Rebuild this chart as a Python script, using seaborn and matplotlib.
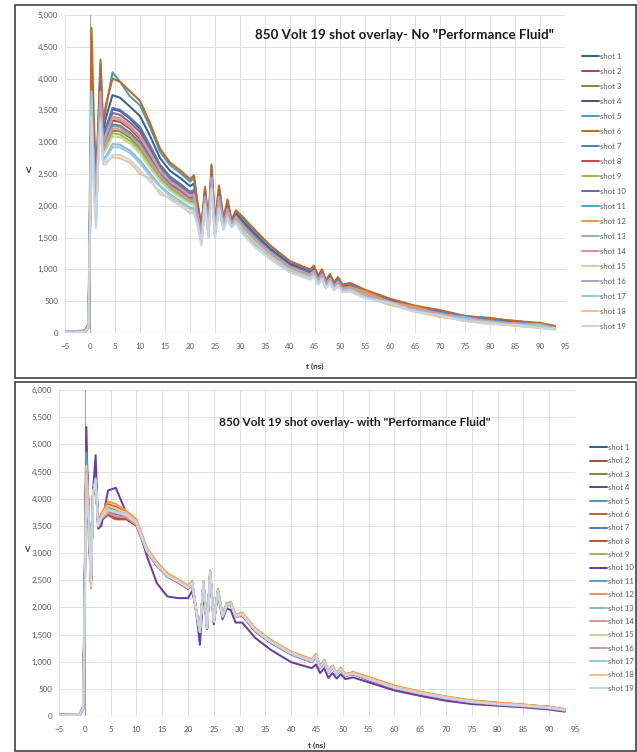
import matplotlib
matplotlib.use("Agg")
import pandas as pd
import seaborn as sns
import matplotlib.pyplot as plt
from matplotlib.patches import Rectangle
from matplotlib.ticker import FuncFormatter

# Sample times (ns) shared by every trace
t_ns = [-5, -1, -0.3, 0.3, 0.8, 1.2, 1.6, 2.1, 2.6, 3.2, 4.5, 6, 8, 10, 12, 14, 16, 18, 20,
        20.8, 21.5, 22.3, 23.0, 23.7, 24.3, 25.0, 25.8, 26.7, 27.5, 28.3, 29.2,
        30.5, 33, 36, 40, 44, 44.8, 45.6, 46.4, 47.2, 48, 48.8, 49.6, 50.5, 52,
        55, 60, 65, 70, 75, 80, 85, 90, 93]

# Panel 1: no "Performance Fluid" (V)
nf_shot01 = [15, 20, 120, 3600, 3060, 2160, 3070, 4080, 3160, 3390, 3740, 3700, 3560, 3410, 3100, 2750, 2550, 2440, 2310, 2350, 1970, 1630, 2230, 1700, 2560, 1700, 2240, 1760, 2030, 1750, 1880, 1770, 1560, 1330, 1090, 970, 1020, 870, 960, 800, 900, 760, 850, 730, 760, 630, 520, 410, 300, 250, 210, 190, 140, 100]
nf_shot02 = [15, 25, 110, 3200, 2700, 1940, 2870, 3750, 2940, 3080, 3340, 3320, 3210, 3050, 2790, 2530, 2360, 2250, 2130, 2150, 1860, 1520, 2140, 1610, 2430, 1610, 2120, 1700, 1940, 1710, 1820, 1680, 1470, 1260, 1060, 910, 960, 820, 915, 755, 850, 720, 800, 690, 710, 590, 490, 380, 270, 230, 180, 170, 120, 80]
nf_shot03 = [20, 5, 80, 3150, 2550, 1860, 2790, 3620, 2860, 2950, 3180, 3170, 3070, 2910, 2670, 2440, 2290, 2180, 2070, 2070, 1810, 1480, 2100, 1580, 2380, 1580, 2070, 1680, 1900, 1700, 1790, 1650, 1440, 1230, 1010, 880, 945, 800, 895, 735, 835, 705, 780, 670, 690, 590, 470, 370, 290, 190, 170, 140, 80, 70]
nf_shot04 = [30, 20, 140, 3400, 2860, 2040, 2960, 3900, 3040, 3220, 3520, 3490, 3370, 3210, 2930, 2630, 2450, 2340, 2210, 2240, 1910, 1570, 2180, 1650, 2490, 1650, 2170, 1730, 1980, 1730, 1850, 1720, 1510, 1290, 1060, 930, 990, 840, 950, 770, 870, 750, 820, 720, 730, 630, 500, 420, 320, 240, 220, 160, 150, 90]
nf_shot05 = [20, 40, 130, 3900, 3220, 2260, 3160, 4230, 3260, 3540, 4100, 3950, 3720, 3580, 3240, 2850, 2640, 2520, 2380, 2440, 2030, 1680, 2280, 1730, 2620, 1730, 2290, 1790, 2080, 1770, 1920, 1810, 1600, 1370, 1120, 990, 1040, 900, 980, 830, 910, 790, 860, 760, 770, 670, 530, 420, 330, 260, 240, 180, 150, 110]
nf_shot06 = [10, 30, 150, 4800, 3300, 2300, 3200, 4300, 3300, 3600, 4000, 3950, 3800, 3650, 3300, 2900, 2680, 2560, 2420, 2480, 2050, 1700, 2300, 1750, 2650, 1750, 2320, 1800, 2100, 1780, 1930, 1830, 1620, 1380, 1130, 1000, 1060, 900, 1000, 830, 930, 790, 880, 760, 790, 680, 540, 430, 360, 270, 230, 190, 160, 110]
nf_shot07 = [25, 10, 110, 3500, 2880, 2050, 2970, 3920, 3050, 3240, 3540, 3510, 3390, 3240, 2950, 2650, 2460, 2350, 2220, 2250, 1920, 1580, 2190, 1660, 2500, 1660, 2180, 1730, 1990, 1730, 1850, 1730, 1520, 1300, 1060, 940, 1000, 850, 940, 780, 880, 740, 830, 710, 740, 630, 520, 400, 320, 260, 200, 160, 130, 90]
nf_shot08 = [5, 20, 90, 3250, 2640, 1910, 2840, 3700, 2910, 3030, 3280, 3260, 3150, 3000, 2750, 2500, 2330, 2220, 2110, 2120, 1840, 1510, 2120, 1600, 2410, 1600, 2100, 1690, 1920, 1710, 1800, 1670, 1460, 1250, 1020, 900, 960, 815, 905, 750, 845, 720, 795, 685, 705, 600, 510, 380, 290, 200, 180, 140, 130, 70]
nf_shot09 = [30, 25, 120, 3050, 2510, 1830, 2770, 3580, 2830, 2920, 3140, 3120, 3020, 2870, 2640, 2420, 2260, 2160, 2050, 2050, 1800, 1470, 2080, 1570, 2360, 1570, 2050, 1670, 1880, 1690, 1780, 1640, 1430, 1220, 1000, 885, 935, 800, 890, 740, 825, 700, 780, 675, 690, 590, 440, 370, 280, 210, 190, 130, 100, 70]
nf_shot10 = [10, 30, 120, 3300, 2810, 2010, 2930, 3850, 3010, 3170, 3460, 3430, 3310, 3160, 2890, 2600, 2420, 2310, 2190, 2210, 1890, 1560, 2170, 1640, 2470, 1640, 2150, 1720, 1970, 1730, 1840, 1710, 1500, 1280, 1050, 925, 1000, 830, 935, 765, 880, 735, 815, 705, 725, 620, 500, 390, 340, 230, 190, 170, 120, 80]
nf_shot11 = [25, 35, 140, 3450, 2620, 1900, 2830, 3680, 2900, 3010, 3260, 3240, 3130, 2970, 2730, 2490, 2320, 2210, 2100, 2110, 1830, 1500, 2110, 1600, 2400, 1600, 2090, 1690, 1910, 1710, 1800, 1660, 1450, 1240, 1020, 905, 950, 810, 910, 745, 840, 715, 790, 690, 700, 640, 480, 370, 320, 220, 200, 140, 110, 70]
nf_shot12 = [20, 10, 100, 3100, 2750, 1980, 2900, 3800, 2980, 3130, 3400, 3380, 3260, 3100, 2840, 2570, 2390, 2280, 2160, 2180, 1880, 1540, 2150, 1630, 2450, 1630, 2140, 1710, 1950, 1720, 1830, 1700, 1490, 1270, 1040, 920, 970, 840, 920, 780, 850, 740, 800, 710, 720, 650, 490, 410, 300, 230, 170, 150, 120, 80]
nf_shot13 = [25, 10, 120, 3700, 2350, 1740, 2680, 3440, 2740, 2780, 2970, 2960, 2870, 2710, 2510, 2320, 2180, 2080, 1970, 1960, 1750, 1430, 2040, 1540, 2310, 1540, 2000, 1650, 1840, 1680, 1750, 1600, 1390, 1190, 980, 860, 915, 780, 870, 720, 810, 690, 760, 660, 670, 570, 450, 380, 270, 200, 180, 120, 90, 60]
nf_shot14 = [10, 15, 100, 3000, 2590, 1880, 2810, 3650, 2880, 2980, 3220, 3200, 3100, 2940, 2700, 2470, 2300, 2200, 2080, 2090, 1820, 1490, 2110, 1590, 2390, 1590, 2080, 1680, 1910, 1700, 1790, 1660, 1450, 1240, 1010, 895, 950, 805, 900, 745, 840, 710, 790, 680, 700, 600, 480, 350, 290, 220, 170, 120, 110, 70]
nf_shot15 = [15, 30, 110, 2950, 2460, 1810, 2740, 3540, 2810, 2880, 3090, 3080, 2980, 2820, 2600, 2390, 2240, 2130, 2030, 2020, 1780, 1460, 2070, 1560, 2350, 1560, 2040, 1660, 1870, 1690, 1770, 1630, 1420, 1210, 990, 875, 930, 790, 885, 730, 825, 700, 775, 670, 680, 610, 460, 360, 250, 210, 160, 150, 100, 60]
nf_shot16 = [35, 15, 130, 3350, 2730, 1960, 2890, 3780, 2960, 3110, 3380, 3350, 3240, 3080, 2820, 2550, 2380, 2270, 2150, 2170, 1870, 1530, 2140, 1620, 2440, 1620, 2130, 1710, 1940, 1720, 1820, 1690, 1480, 1270, 1040, 915, 975, 825, 925, 760, 860, 725, 805, 695, 715, 610, 470, 380, 300, 250, 180, 150, 140, 80]
nf_shot17 = [10, 20, 100, 3800, 2310, 1720, 2660, 3400, 2720, 2750, 2920, 2920, 2830, 2670, 2470, 2300, 2160, 2060, 1950, 1940, 1740, 1410, 2030, 1530, 2290, 1530, 1990, 1640, 1830, 1670, 1740, 1590, 1380, 1180, 970, 855, 905, 775, 865, 715, 805, 680, 755, 650, 665, 560, 480, 350, 260, 230, 150, 120, 120, 60]
nf_shot18 = [20, 15, 90, 3000, 2260, 1680, 2630, 3350, 2680, 2700, 2760, 2750, 2680, 2500, 2430, 2180, 2130, 2030, 1880, 1910, 1720, 1400, 2020, 1510, 2270, 1510, 1970, 1630, 1820, 1670, 1730, 1570, 1360, 1170, 960, 850, 895, 765, 855, 705, 795, 675, 745, 645, 655, 560, 450, 330, 260, 190, 170, 110, 80, 80]
nf_shot19 = [5, 10, 100, 3400, 2200, 1650, 2600, 3300, 2650, 2650, 2800, 2800, 2720, 2560, 2380, 2230, 2100, 2000, 1900, 1880, 1700, 1380, 2000, 1500, 2250, 1500, 1950, 1620, 1800, 1660, 1720, 1560, 1350, 1160, 950, 840, 890, 760, 850, 700, 790, 670, 740, 640, 650, 550, 470, 340, 280, 190, 140, 130, 80, 50]

# Panel 2: with "Performance Fluid" (V)
wf_shot01 = [15, 25, 120, 4700, 3650, 2480, 4080, 4300, 3520, 3640, 3780, 3720, 3680, 3560, 3080, 2800, 2590, 2490, 2370, 2440, 1990, 1560, 2450, 1630, 2640, 1750, 2310, 1840, 2050, 2060, 1840, 1880, 1590, 1380, 1160, 1020, 1100, 910, 990, 810, 890, 790, 850, 760, 770, 690, 530, 410, 340, 250, 230, 180, 160, 100]
wf_shot02 = [25, 35, 160, 4600, 3550, 2420, 4050, 4300, 3450, 3600, 3700, 3620, 3620, 3500, 3020, 2760, 2570, 2470, 2350, 2430, 1970, 1540, 2430, 1610, 2630, 1730, 2290, 1820, 2030, 2060, 1820, 1860, 1570, 1360, 1140, 1000, 1090, 890, 990, 790, 890, 770, 850, 740, 770, 670, 510, 400, 310, 250, 210, 180, 140, 100]
wf_shot03 = [10, 20, 140, 4750, 3600, 2460, 4120, 4380, 3530, 3680, 3850, 3780, 3720, 3580, 3080, 2800, 2600, 2490, 2370, 2460, 1990, 1560, 2450, 1630, 2660, 1750, 2310, 1840, 2050, 2080, 1840, 1880, 1590, 1380, 1160, 1020, 1120, 910, 1010, 810, 910, 790, 870, 760, 790, 700, 530, 430, 350, 270, 230, 200, 150, 110]
wf_shot04 = [30, 15, 130, 4650, 3620, 2440, 4090, 4340, 3490, 3630, 3760, 3730, 3690, 3540, 3040, 2770, 2570, 2470, 2350, 2440, 1970, 1540, 2430, 1610, 2640, 1730, 2290, 1820, 2030, 2060, 1820, 1860, 1560, 1350, 1130, 990, 1100, 890, 990, 790, 890, 770, 850, 740, 770, 660, 500, 400, 310, 240, 200, 170, 130, 90]
wf_shot05 = [20, 30, 150, 4900, 3680, 2500, 4130, 4400, 3540, 3690, 3830, 3770, 3730, 3580, 3070, 2800, 2600, 2500, 2380, 2470, 2000, 1570, 2460, 1640, 2660, 1760, 2320, 1850, 2060, 2090, 1850, 1890, 1600, 1390, 1170, 1030, 1130, 910, 1020, 810, 910, 790, 880, 760, 800, 700, 540, 440, 350, 280, 240, 200, 170, 120]
wf_shot06 = [15, 25, 140, 4800, 3650, 2400, 4150, 4420, 3560, 3720, 3900, 3850, 3760, 3600, 3090, 2820, 2620, 2510, 2390, 2480, 2010, 1580, 2470, 1650, 2670, 1770, 2330, 1860, 2070, 2090, 1860, 1900, 1610, 1400, 1180, 1040, 1130, 920, 1020, 820, 920, 800, 880, 770, 800, 710, 550, 440, 350, 280, 240, 210, 170, 120]
wf_shot07 = [25, 20, 130, 4850, 3640, 2470, 4110, 4360, 3510, 3660, 3810, 3760, 3710, 3560, 3060, 2790, 2590, 2490, 2370, 2450, 1990, 1550, 2440, 1620, 2650, 1740, 2300, 1830, 2040, 2070, 1830, 1870, 1580, 1370, 1150, 1010, 1110, 900, 1000, 800, 900, 780, 860, 750, 780, 680, 520, 420, 330, 260, 220, 190, 150, 110]
wf_shot08 = [20, 35, 160, 4550, 3560, 2430, 4060, 4310, 3460, 3610, 3720, 3640, 3640, 3510, 3030, 2760, 2560, 2460, 2340, 2430, 1960, 1540, 2420, 1600, 2630, 1720, 2280, 1820, 2030, 2050, 1820, 1850, 1560, 1360, 1140, 1000, 1090, 890, 990, 790, 890, 770, 850, 740, 770, 670, 510, 410, 320, 250, 210, 180, 140, 100]
wf_shot09 = [10, 30, 150, 4700, 3620, 2450, 4100, 4360, 3500, 3660, 3820, 3770, 3710, 3570, 3070, 2800, 2600, 2490, 2370, 2460, 1990, 1560, 2450, 1630, 2650, 1750, 2310, 1840, 2050, 2080, 1840, 1880, 1590, 1380, 1160, 1020, 1110, 900, 1010, 810, 900, 790, 860, 750, 780, 690, 530, 430, 340, 270, 230, 190, 160, 110]
wf_shot10 = [25, 20, 180, 5320, 3200, 2500, 4150, 4800, 3450, 3500, 4150, 4200, 3750, 3600, 2950, 2440, 2200, 2170, 2170, 2300, 2000, 1310, 2300, 1600, 2600, 1690, 2250, 1780, 1980, 1950, 1720, 1720, 1440, 1220, 990, 880, 950, 790, 880, 700, 790, 690, 770, 680, 710, 620, 470, 370, 280, 220, 190, 160, 120, 80]
wf_shot11 = [20, 25, 150, 4850, 3660, 2480, 4120, 4380, 3520, 3670, 3820, 3760, 3720, 3570, 3060, 2790, 2590, 2490, 2370, 2450, 1990, 1560, 2450, 1630, 2650, 1750, 2310, 1840, 2050, 2070, 1840, 1880, 1590, 1380, 1160, 1020, 1110, 900, 1000, 800, 900, 780, 870, 750, 790, 690, 530, 420, 340, 270, 230, 200, 160, 110]
wf_shot12 = [15, 30, 140, 4600, 3640, 2350, 4100, 4300, 3550, 3720, 3950, 3900, 3780, 3620, 3100, 2830, 2630, 2520, 2400, 2470, 2010, 1570, 2470, 1650, 2680, 1770, 2340, 1860, 2080, 2100, 1860, 1900, 1620, 1400, 1180, 1040, 1140, 920, 1030, 830, 930, 800, 890, 770, 810, 720, 560, 450, 360, 290, 250, 210, 170, 130]
wf_shot13 = [25, 20, 130, 4400, 3600, 2460, 4090, 4340, 3500, 3650, 3790, 3740, 3700, 3550, 3050, 2780, 2580, 2480, 2360, 2450, 1980, 1550, 2440, 1620, 2650, 1740, 2300, 1830, 2040, 2070, 1830, 1870, 1580, 1370, 1150, 1010, 1100, 900, 1000, 800, 900, 780, 860, 750, 780, 680, 520, 420, 330, 260, 220, 190, 150, 110]
wf_shot14 = [10, 25, 140, 4500, 3580, 2440, 4070, 4320, 3480, 3620, 3740, 3680, 3660, 3520, 3030, 2770, 2570, 2470, 2350, 2440, 1970, 1540, 2430, 1610, 2640, 1730, 2290, 1820, 2030, 2060, 1820, 1860, 1570, 1360, 1140, 1000, 1090, 890, 990, 790, 890, 770, 850, 740, 770, 670, 510, 410, 320, 250, 210, 180, 140, 100]
wf_shot15 = [20, 30, 150, 4600, 3620, 2470, 4110, 4370, 3510, 3670, 3810, 3760, 3720, 3560, 3060, 2790, 2590, 2490, 2370, 2460, 1990, 1560, 2450, 1630, 2660, 1750, 2310, 1840, 2050, 2080, 1840, 1880, 1590, 1380, 1160, 1020, 1110, 910, 1010, 810, 910, 790, 870, 760, 790, 690, 540, 430, 340, 270, 230, 200, 160, 110]
wf_shot16 = [30, 20, 140, 4500, 3600, 2450, 4080, 4330, 3490, 3640, 3780, 3740, 3690, 3540, 3040, 2780, 2580, 2480, 2360, 2440, 1980, 1550, 2440, 1620, 2640, 1740, 2300, 1830, 2040, 2060, 1830, 1870, 1570, 1360, 1140, 1000, 1100, 890, 990, 790, 890, 770, 850, 740, 770, 680, 520, 410, 320, 260, 220, 180, 150, 100]
wf_shot17 = [15, 25, 130, 4300, 3580, 2460, 4100, 4350, 3500, 3650, 3800, 3750, 3700, 3550, 3050, 2780, 2580, 2480, 2360, 2450, 1980, 1550, 2440, 1620, 2650, 1740, 2300, 1830, 2040, 2070, 1830, 1870, 1580, 1370, 1150, 1010, 1110, 900, 1000, 800, 900, 780, 860, 750, 780, 680, 520, 420, 330, 260, 220, 190, 150, 110]
wf_shot18 = [20, 30, 150, 4450, 3620, 2380, 4090, 4330, 3520, 3690, 3870, 3820, 3740, 3580, 3080, 2810, 2610, 2500, 2380, 2460, 2000, 1560, 2460, 1640, 2660, 1760, 2320, 1850, 2060, 2080, 1850, 1890, 1600, 1390, 1170, 1030, 1120, 910, 1010, 810, 910, 790, 870, 760, 790, 700, 540, 430, 350, 270, 230, 200, 160, 120]
wf_shot19 = [20, 25, 140, 4000, 3600, 2480, 4100, 4340, 3500, 3650, 3790, 3750, 3700, 3550, 3050, 2780, 2580, 2480, 2360, 2450, 1980, 1550, 2440, 1620, 2650, 1740, 2300, 1830, 2040, 2070, 1830, 1870, 1580, 1370, 1150, 1010, 1100, 900, 1000, 800, 900, 780, 860, 750, 780, 680, 520, 420, 330, 260, 220, 190, 150, 110]

shot_labels = [f"shot {i}" for i in range(1, 20)]
shot_colors = ["#3A5F8F", "#B04A47", "#77933C", "#604A7B", "#4A9DB5", "#C0682A",
               "#4F81BD", "#C0504D", "#9BBB59", "#8064A2", "#4BACC6", "#F79646",
               "#95B3D7", "#D99694", "#C3D69B", "#B3A2C7", "#93CDDD", "#FAC090",
               "#C6D5EA"]
# second chart: shot 10 reads as a deeper purple
shot_colors_wf = shot_colors[:9] + ["#6A3F9B"] + shot_colors[10:]

no_fluid = [nf_shot01, nf_shot02, nf_shot03, nf_shot04, nf_shot05, nf_shot06, nf_shot07,
            nf_shot08, nf_shot09, nf_shot10, nf_shot11, nf_shot12, nf_shot13, nf_shot14,
            nf_shot15, nf_shot16, nf_shot17, nf_shot18, nf_shot19]
with_fluid = [wf_shot01, wf_shot02, wf_shot03, wf_shot04, wf_shot05, wf_shot06, wf_shot07,
              wf_shot08, wf_shot09, wf_shot10, wf_shot11, wf_shot12, wf_shot13, wf_shot14,
              wf_shot15, wf_shot16, wf_shot17, wf_shot18, wf_shot19]


def long_form(series):
    frames = []
    for label, vals in zip(shot_labels, series):
        assert len(vals) == len(t_ns), label
        frames.append(pd.DataFrame({"t": t_ns, "V": vals, "shot": label}))
    return pd.concat(frames, ignore_index=True)


sns.set_style("white")
plt.rcParams["font.family"] = ["Lato", "DejaVu Sans"]

W, H = 637, 752
fig = plt.figure(figsize=(W / 100, H / 100), dpi=100)

# outer chart frames (pixel boxes -> figure fraction)
for x0, y0, x1, y1 in [(14.5, 5, 635.5, 378), (14.5, 382, 635.5, 751)]:
    fig.add_artist(Rectangle((x0 / W, 1 - y1 / H), (x1 - x0) / W, (y1 - y0) / H,
                             transform=fig.transFigure, fill=False,
                             ec="#404040", lw=1.2))

tick_color = "#595959"


def draw_panel(data, colors, box, ymax, title, title_xy, title_size, leg_xy, leg_spacing,
               ylab_x, xlab_y):
    x0, y0, x1, y1 = box
    ax = fig.add_axes([x0 / W, 1 - y1 / H, (x1 - x0) / W, (y1 - y0) / H])
    sns.lineplot(data=data, x="t", y="V", hue="shot", palette=colors,
                 linewidth=1.45, errorbar=None, sort=False, ax=ax)
    ax.set_xlim(-5, 95)
    ax.set_ylim(0, ymax)
    ax.set_xticks(range(-5, 96, 5))
    ax.set_yticks(range(0, ymax + 1, 500))
    ax.yaxis.set_major_formatter(FuncFormatter(lambda v, p: f"{v:,.0f}"))
    ax.grid(True, color="#DADADA", lw=0.6)
    for s in ax.spines.values():
        s.set_visible(False)
    ax.axvline(0, color="#A6A6A6", lw=0.8, zorder=1)
    ax.axhline(0, color="#A6A6A6", lw=0.8, zorder=1)
    ax.tick_params(labelsize=5.8, labelcolor=tick_color)
    ax.tick_params(axis="x", length=3, width=0.6, color="#A6A6A6", pad=4)
    ax.tick_params(axis="y", length=0, pad=5)
    ax.set_xlabel("t (ns)", fontsize=5.8, fontweight="bold", color="#333333")
    ax.set_ylabel("V", fontsize=5.8, fontweight="bold", color="#333333", rotation=0)
    ax.xaxis.set_label_coords(0.5, xlab_y)
    ax.yaxis.set_label_coords(ylab_x, 0.5)

    handles, labels = ax.get_legend_handles_labels()
    ax.legend(handles, labels, loc="upper left", bbox_to_anchor=leg_xy,
              bbox_transform=fig.transFigure, frameon=False, fontsize=5.6,
              handlelength=2.2, handletextpad=0.1, labelspacing=leg_spacing,
              borderpad=0, borderaxespad=0, labelcolor=tick_color)
    fig.text(title_xy[0] / W, 1 - title_xy[1] / H, title, fontsize=title_size,
             fontweight="bold", color="#1A1A1A", ha="center", va="center")
    return ax


draw_panel(long_form(no_fluid), shot_colors, (65, 15, 565, 333), 5000,
           '850 Volt 19 shot overlay- No "Performance Fluid"', (405, 35), 9.6,
           (582 / W, 1 - 53 / H), 1.03, -0.074, -0.094)
draw_panel(long_form(with_fluid), shot_colors_wf, (59, 390, 575, 716), 6000,
           '850 Volt 19 shot overlay- with "Performance Fluid"', (355, 422), 8.6,
           (590 / W, 1 - 444 / H), 0.82, -0.062, -0.08)

fig.savefig("out.png", dpi=100)
